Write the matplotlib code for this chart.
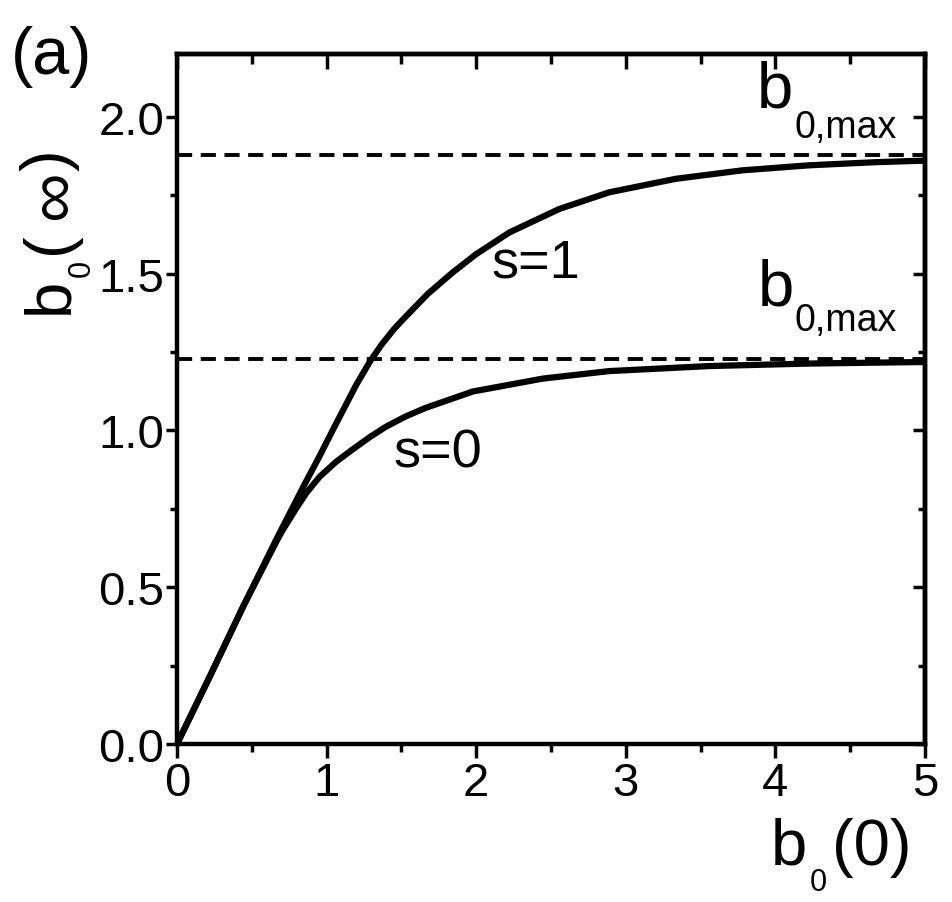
import matplotlib
matplotlib.use("Agg")
import matplotlib.pyplot as plt
from matplotlib.ticker import MultipleLocator

plt.rcParams['font.family'] = ['Liberation Sans', 'DejaVu Sans']

# curve s=1
x_s1 = [0, 0.222, 0.444, 0.667, 0.842, 0.953, 1.064, 1.198, 1.289, 1.37, 1.449, 1.509,
        1.676, 1.844, 2.0, 2.222, 2.556, 2.889, 3.333, 3.778, 4.222, 4.667, 5.0]
y_s1 = [0, 0.218, 0.44, 0.655, 0.818, 0.918, 1.022, 1.145, 1.219, 1.275, 1.322, 1.353,
        1.435, 1.504, 1.562, 1.631, 1.706, 1.759, 1.802, 1.829, 1.845, 1.855, 1.86]

# curve s=0
x_s0 = [0, 0.222, 0.444, 0.667, 0.709, 0.798, 0.864, 0.953, 1.064, 1.176, 1.287,
        1.398, 1.531, 1.664, 1.978, 2.444, 2.889, 3.556, 4.222, 5.0]
y_s0 = [0, 0.218, 0.44, 0.648, 0.684, 0.752, 0.8, 0.852, 0.9, 0.94, 0.978,
        1.012, 1.045, 1.072, 1.124, 1.165, 1.189, 1.205, 1.213, 1.218]

# b0,max levels (dashed)
b0max = [1.877, 1.226]

x_ticks = [0, 1, 2, 3, 4, 5]
x_ticklabels = ['0', '1', '2', '3', '4', '5']
y_ticks = [0.0, 0.5, 1.0, 1.5, 2.0]
y_ticklabels = ['0.0', '0.5', '1.0', '1.5', '2.0']

W, H = 953, 903
fig = plt.figure(figsize=(W / 100, H / 100), dpi=100)
ax = fig.add_axes([177 / W, 1 - 745 / H, (925 - 177) / W, (745 - 55) / H])

ax.plot(x_s1, y_s1, color='black', lw=4.5, solid_joinstyle='round', solid_capstyle='round')
ax.plot(x_s0, y_s0, color='black', lw=4.5, solid_joinstyle='round', solid_capstyle='round')
for v in b0max:
    ax.axhline(v, color='black', lw=2.8, linestyle=(0, (3.9, 2.2)))

ax.set_xlim(0, 5)
ax.set_ylim(0, 2.2)
ax.set_xticks(x_ticks)
ax.set_xticklabels(x_ticklabels)
ax.set_yticks(y_ticks)
ax.set_yticklabels(y_ticklabels)
ax.xaxis.set_minor_locator(MultipleLocator(0.5))
ax.yaxis.set_minor_locator(MultipleLocator(0.25))

for sp in ax.spines.values():
    sp.set_linewidth(3.2)

ax.tick_params(axis='x', which='major', direction='out', length=10, width=2.5,
               labelsize=34, pad=2, top=False)
ax.tick_params(axis='x', which='minor', direction='out', length=6, width=2.5, top=False)
ax.tick_params(axis='y', which='major', direction='out', length=8, width=2.5,
               labelsize=34, pad=1, right=False)
ax.tick_params(axis='y', which='minor', direction='out', length=5, width=2.5, right=False)

# mirrored axes, ticks pointing inward
top = ax.secondary_xaxis('top')
top.set_xticks(x_ticks)
top.xaxis.set_minor_locator(MultipleLocator(0.5))
top.tick_params(which='major', direction='in', length=11, width=2.5, labeltop=False)
top.tick_params(which='minor', direction='in', length=7, width=2.5)
top.spines['top'].set_linewidth(3.2)

right = ax.secondary_yaxis('right')
right.set_yticks(y_ticks)
right.yaxis.set_minor_locator(MultipleLocator(0.25))
right.tick_params(which='major', direction='in', length=9, width=2.5, labelright=False)
right.tick_params(which='minor', direction='in', length=5, width=2.5)
right.spines['right'].set_linewidth(3.2)


def put(x, y, s, size, rot=0):
    fig.text(x / W, 1 - y / H, s, fontsize=size, ha='left', va='baseline',
             rotation=rot, rotation_mode='anchor')


# panel tag
put(11, 74, '(a)', 48)

# x label b_0(0)
put(771, 865, 'b', 47)
put(810, 891, '0', 22)
put(832, 865, '(0)', 47)

# y label b_0(inf), rotated
put(67, 314, 'b', 47, 90)
put(90, 277, '0', 22, 90)
put(67, 254, '(', 47, 90)
put(73, 219, '\u221e', 50, 90)
put(67, 171, ')', 47, 90)

# b0,max labels
put(757, 108, 'b', 47)
put(795, 138, '0,max', 27)
put(758, 305, 'b', 47)
put(795, 331, '0,max', 27)

# curve labels
put(492, 278, 's=1', 39)
put(394, 468, 's=0', 39)

fig.savefig('out.png', dpi=100)
